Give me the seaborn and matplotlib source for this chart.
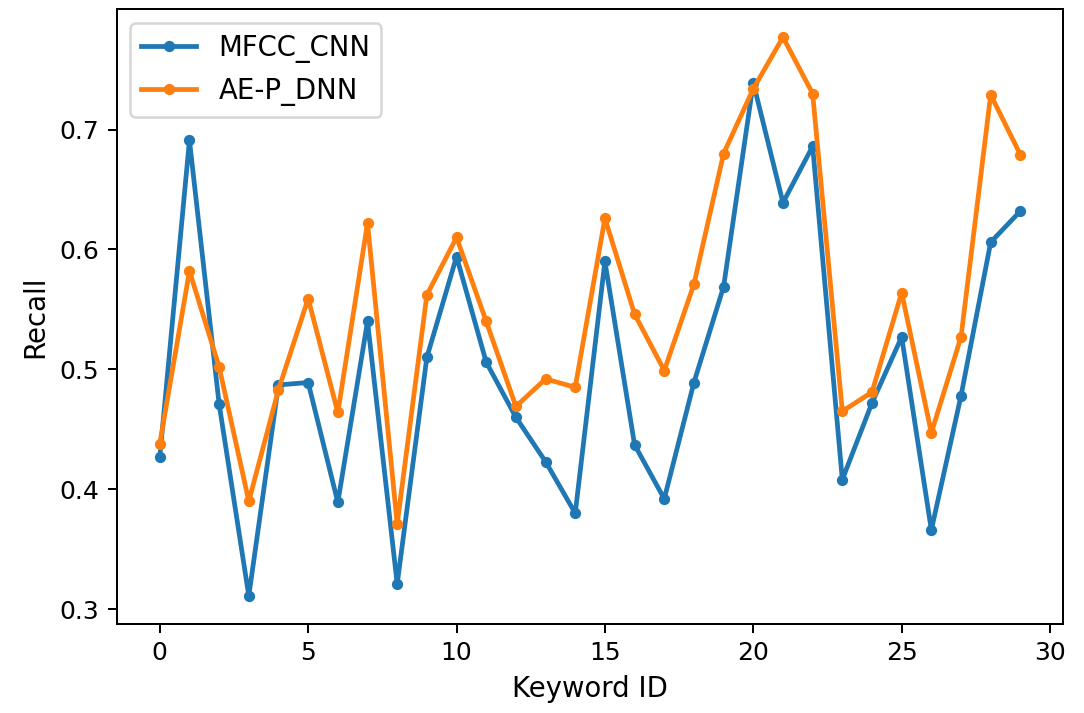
import numpy as np
import pandas as pd
import matplotlib
matplotlib.use('Agg')
import matplotlib.pyplot as plt
import seaborn as sns

# recall per keyword
keyword_id = list(range(30))
mfcc_cnn = [0.427, 0.691, 0.471, 0.311, 0.487, 0.489, 0.389, 0.540, 0.321, 0.510,
            0.594, 0.506, 0.460, 0.423, 0.380, 0.590, 0.437, 0.392, 0.489, 0.569,
            0.739, 0.639, 0.686, 0.408, 0.472, 0.527, 0.366, 0.478, 0.606, 0.632]
ae_p_dnn = [0.438, 0.582, 0.502, 0.390, 0.483, 0.559, 0.464, 0.622, 0.371, 0.562,
            0.610, 0.540, 0.469, 0.492, 0.485, 0.626, 0.546, 0.499, 0.571, 0.680,
            0.734, 0.777, 0.730, 0.465, 0.481, 0.564, 0.447, 0.527, 0.729, 0.679]

df = pd.DataFrame({'Keyword ID': keyword_id,
                   'MFCC_CNN': mfcc_cnn,
                   'AE-P_DNN': ae_p_dnn})
ldf = df.melt(id_vars='Keyword ID', var_name='model', value_name='Recall')

fig, ax = plt.subplots(figsize=(1084/180, 713/180), dpi=180)
fig.subplots_adjust(left=0.1077, right=0.981, top=0.987, bottom=0.125)

sns.lineplot(data=ldf, x='Keyword ID', y='Recall', hue='model',
             palette=['#1f77b4', '#ff7f0e'], marker='o', markersize=4.5,
             markeredgewidth=0, linewidth=1.9, ax=ax)

ax.set_xticks([0, 5, 10, 15, 20, 25, 30])
ax.set_yticks([0.3, 0.4, 0.5, 0.6, 0.7])
ax.tick_params(labelsize=10)
ax.legend(loc='upper left', title=None, fontsize=11)
ax.set_xlabel('Keyword ID', fontsize=11)
ax.set_ylabel('Recall', fontsize=11)

fig.savefig('out.png', dpi=180)
